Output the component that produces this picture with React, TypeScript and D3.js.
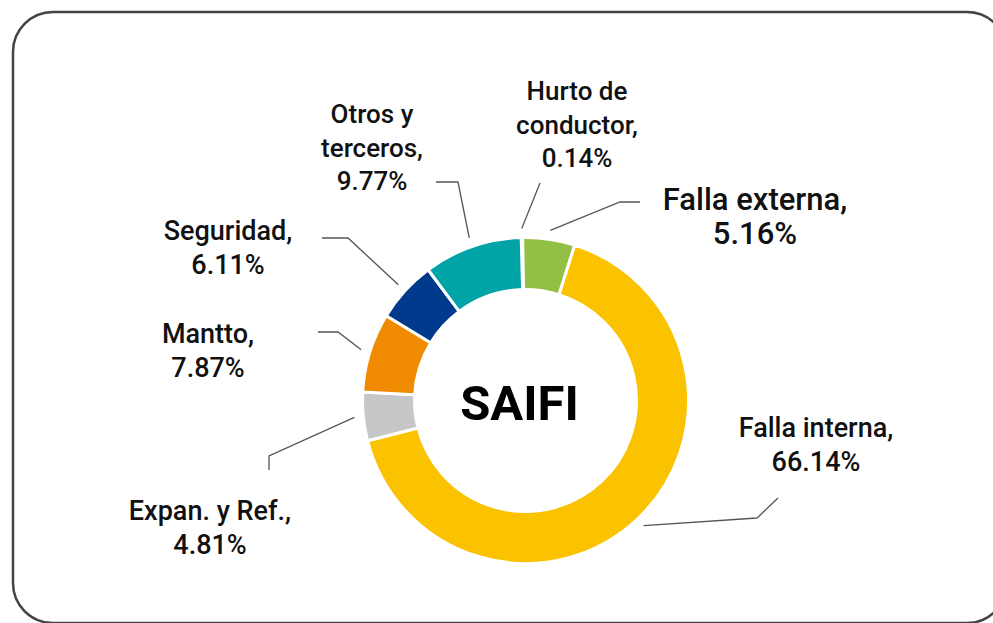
import { useEffect, useRef } from 'react';
import * as d3 from 'd3';

// slice data, clockwise from the top
const categories = ['Hurto de conductor', 'Falla externa', 'Falla interna', 'Expan. y Ref.', 'Mantto', 'Seguridad', 'Otros y terceros'];
const values = [0.14, 5.16, 66.14, 4.81, 7.87, 6.11, 9.77];
const labelLines = [
    ['Hurto de', 'conductor,', '0.14%'],
    ['Falla externa,', '5.16%'],
    ['Falla interna,', '66.14%'],
    ['Expan. y Ref.,', '4.81%'],
    ['Mantto,', '7.87%'],
    ['Seguridad,', '6.11%'],
    ['Otros y', 'terceros,', '9.77%'],
];
const colors = ['#f4f4f4', '#92bf45', '#fbc200', '#c6c7c9', '#f08a00', '#003a8c', '#00a3a6'];
const title = 'SAIFI';

// label placement (text centre, first baseline, font size, leader elbow and end)
const labelLayout = [
    { x: 577, y: 100, size: 26, elbow: [540, 183], end: [540, 183] },
    { x: 755, y: 210, size: 31, elbow: [620, 202], end: [640, 202] },
    { x: 816, y: 437, size: 27, elbow: [757, 518], end: [778, 498] },
    { x: 210, y: 520, size: 27, elbow: [269, 456], end: [269, 470] },
    { x: 208, y: 343, size: 27, elbow: [338, 332], end: [318, 332] },
    { x: 228, y: 240, size: 27, elbow: [348, 238], end: [322, 238] },
    { x: 372, y: 123, size: 26, elbow: [458, 182], end: [436, 182] },
];

export default function App() {
    const ref = useRef<SVGSVGElement>(null);

    useEffect(() => {
        const svg = d3.select(ref.current);
        svg.selectAll('*').remove();

        var cx = 525.5, cy = 400.5;
        var outer = 163, inner = 111;
        var font = 'Roboto, "Noto Sans", sans-serif';

        // frame
        svg.append('rect')
            .attr('x', 13).attr('y', 12)
            .attr('width', 994).attr('height', 611)
            .attr('rx', 40)
            .attr('fill', 'none')
            .attr('stroke', '#444')
            .attr('stroke-width', 2.5);

        var data = categories.map((c, i) => ({ name: c, value: values[i], i }));
        var start = -1.5 * Math.PI / 180;
        var pie = d3.pie<any>().value(d => d.value).sort(null)
            .startAngle(start).endAngle(start + 2 * Math.PI);
        var arcs = pie(data);

        var arc = d3.arc<any>().innerRadius(inner).outerRadius(outer);
        var leadArc = d3.arc<any>().innerRadius(172).outerRadius(172);

        var g = svg.append('g').attr('transform', `translate(${cx},${cy})`);
        g.selectAll('path.slice')
            .data(arcs)
            .join('path')
            .attr('class', 'slice')
            .attr('d', arc)
            .attr('fill', d => colors[d.data.i])
            .attr('stroke', '#fff')
            .attr('stroke-width', 3);

        // leader lines
        svg.selectAll('path.leader')
            .data(arcs)
            .join('path')
            .attr('class', 'leader')
            .attr('fill', 'none')
            .attr('stroke', '#555')
            .attr('stroke-width', 1.3)
            .attr('d', d => {
                var c = leadArc.centroid(d);
                var L = labelLayout[d.data.i];
                return d3.line()([[cx + c[0], cy + c[1]], L.elbow as [number, number], L.end as [number, number]]);
            });

        // labels
        arcs.forEach(d => {
            var L = labelLayout[d.data.i];
            var t = svg.append('text')
                .attr('text-anchor', 'middle')
                .attr('font-family', font)
                .attr('font-weight', 500)
                .attr('font-size', L.size)
                .attr('fill', '#111');
            labelLines[d.data.i].forEach((s, k) => {
                t.append('tspan').attr('x', L.x).attr('y', L.y + k * 33.5).text(s);
            });
        });

        svg.append('text')
            .attr('x', 519.5).attr('y', 420)
            .attr('text-anchor', 'middle')
            .attr('font-family', font)
            .attr('font-weight', 700)
            .attr('font-size', 49)
            .attr('fill', '#000')
            .text(title);
    }, []);

    return (
        <svg ref={ref} width={993} height={623}
            style={{ position: 'absolute', left: 0, top: 0, background: '#fff' }} />
    );
}
